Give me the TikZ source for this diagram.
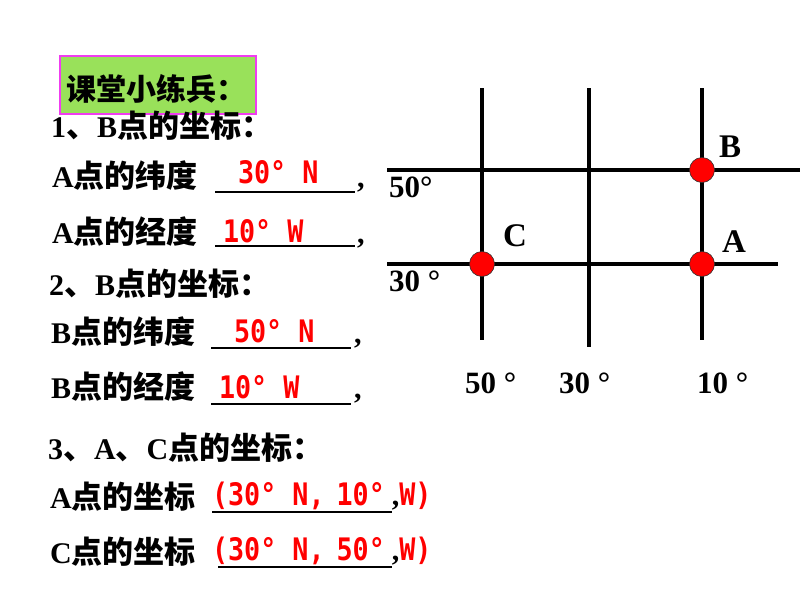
\documentclass[tikz,border=0pt]{standalone}
\usepackage{fontspec}
\setmainfont{Liberation Serif}
\newfontfamily\cjk{Noto Sans CJK SC}
\newfontfamily\redf{DejaVu Sans Mono}[FakeStretch=0.862]
\definecolor{boxgreen}{HTML}{99E15A}
\definecolor{boxmag}{HTML}{F03CF0}
\definecolor{ptred}{HTML}{FF0000}
\newcommand{\lat}[1]{{\bfseries\fontsize{30}{30}\selectfont #1}}
\newcommand{\han}[1]{{\cjk\bfseries\fontsize{31}{32}\selectfont #1}}
\newcommand{\ans}[1]{{\redf\bfseries\fontsize{31}{32}\selectfont\color{red}#1}}
\begin{document}
\begin{tikzpicture}[x=1pt,y=-1pt,
  txt/.style={anchor=base west,inner sep=0pt,outer sep=0pt},
  gridline/.style={line width=4.5pt},
  uline/.style={line width=1.8pt},
  dot/.style={circle,fill=ptred,draw=black!80,line width=0.6pt,minimum size=25pt,inner sep=0pt},
  glab/.style={anchor=base west,inner sep=0pt,font=\bfseries\fontsize{31}{32}\selectfont},
  plab/.style={anchor=base west,inner sep=0pt,font=\bfseries\fontsize{33}{34}\selectfont}]
\useasboundingbox (0,0) rectangle (800,600);
% title box
\node[draw=boxmag,fill=boxgreen,line width=1.5pt,minimum width=196pt,minimum height=58pt,inner sep=0pt,anchor=north west] (box) at (59,55) {};
\node[txt] (title) at (66,100) {{\cjk\bfseries\fontsize{30}{30}\selectfont 课堂小练兵：}};
% left text lines
\node[txt] (q1) at (51,137) {\lat{1}\han{、}\lat{B}\han{点的坐标：}};
\node[txt] (l1) at (52,187) {\lat{A}\han{点的纬度}};
\node[txt] (l2) at (52,243) {\lat{A}\han{点的经度}};
\node[txt] (q2) at (49,295) {\lat{2}\han{、}\lat{B}\han{点的坐标：}};
\node[txt] (l3) at (51,343) {\lat{B}\han{点的纬度}};
\node[txt] (l4) at (51,398) {\lat{B}\han{点的经度}};
\node[txt] (q3) at (48,459) {\lat{3}\han{、}\lat{A}\han{、}\lat{C}\han{点的坐标：}};
\node[txt] (l5) at (50,508) {\lat{A}\han{点的坐标}};
\node[txt] (l6) at (50,563) {\lat{C}\han{点的坐标}};
% underlines
\coordinate (u1a) at (215,192); \coordinate (u1b) at (355,192);
\coordinate (u2a) at (215,246); \coordinate (u2b) at (355,246);
\coordinate (u3a) at (211,348); \coordinate (u3b) at (351,348);
\coordinate (u4a) at (211,404); \coordinate (u4b) at (351,404);
\coordinate (u5a) at (212,512); \coordinate (u5b) at (392,512);
\coordinate (u6a) at (218,567); \coordinate (u6b) at (392,567);
\draw[uline] (u1a) -- (u1b);
\draw[uline] (u2a) -- (u2b);
\draw[uline] (u3a) -- (u3b);
\draw[uline] (u4a) -- (u4b);
\draw[uline] (u5a) -- (u5b);
\draw[uline] (u6a) -- (u6b);
% commas
\node[txt] (c1) at (357,187) {\lat{,}};
\node[txt] (c2) at (357,243) {\lat{,}};
\node[txt] (c3) at (354,343) {\lat{,}};
\node[txt] (c4) at (354,398) {\lat{,}};
% answers
\node[txt] (a1) at (238,183) {\ans{30° N}};
\node[txt] (a2) at (223,242) {\ans{10° W}};
\node[txt] (a3) at (234,342) {\ans{50° N}};
\node[txt] (a4) at (219,398) {\ans{10° W}};
\node[txt] (a5) at (212,505) {\ans{(30° N,\hspace{12pt}10°}\hspace{7pt}\lat{,}\ans{W)}};
\node[txt] (a6) at (212,560) {\ans{(30° N,\hspace{12pt}50°}\hspace{7pt}\lat{,}\ans{W)}};
% grid
\coordinate (v1t) at (482,88);  \coordinate (v1b) at (482,340);
\coordinate (v2t) at (589,88);  \coordinate (v2b) at (589,347);
\coordinate (v3t) at (702,88);  \coordinate (v3b) at (702,340);
\coordinate (h1l) at (387,170); \coordinate (h1r) at (800,170);
\coordinate (h2l) at (387,264); \coordinate (h2r) at (778,264);
\draw[gridline] (v1t) -- (v1b);
\draw[gridline] (v2t) -- (v2b);
\draw[gridline] (v3t) -- (v3b);
\draw[gridline] (h1l) -- (h1r);
\draw[gridline] (h2l) -- (h2r);
\node[dot] (B) at (702,170) {};
\node[dot] (A) at (702,264) {};
\node[dot] (C) at (482,264) {};
\node[plab] (Bl) at (719,157) {B};
\node[plab] (Cl) at (503,246) {C};
\node[plab] (Al) at (722,252) {A};
% degree labels
\node[glab] (n50) at (389,197) {50°};
\node[glab] (n30) at (389,291) {30 °};
\node[glab] (w50) at (465,393) {50 °};
\node[glab] (w30) at (559,393) {30 °};
\node[glab] (w10) at (697,393) {10 °};
\end{tikzpicture}
\end{document}
